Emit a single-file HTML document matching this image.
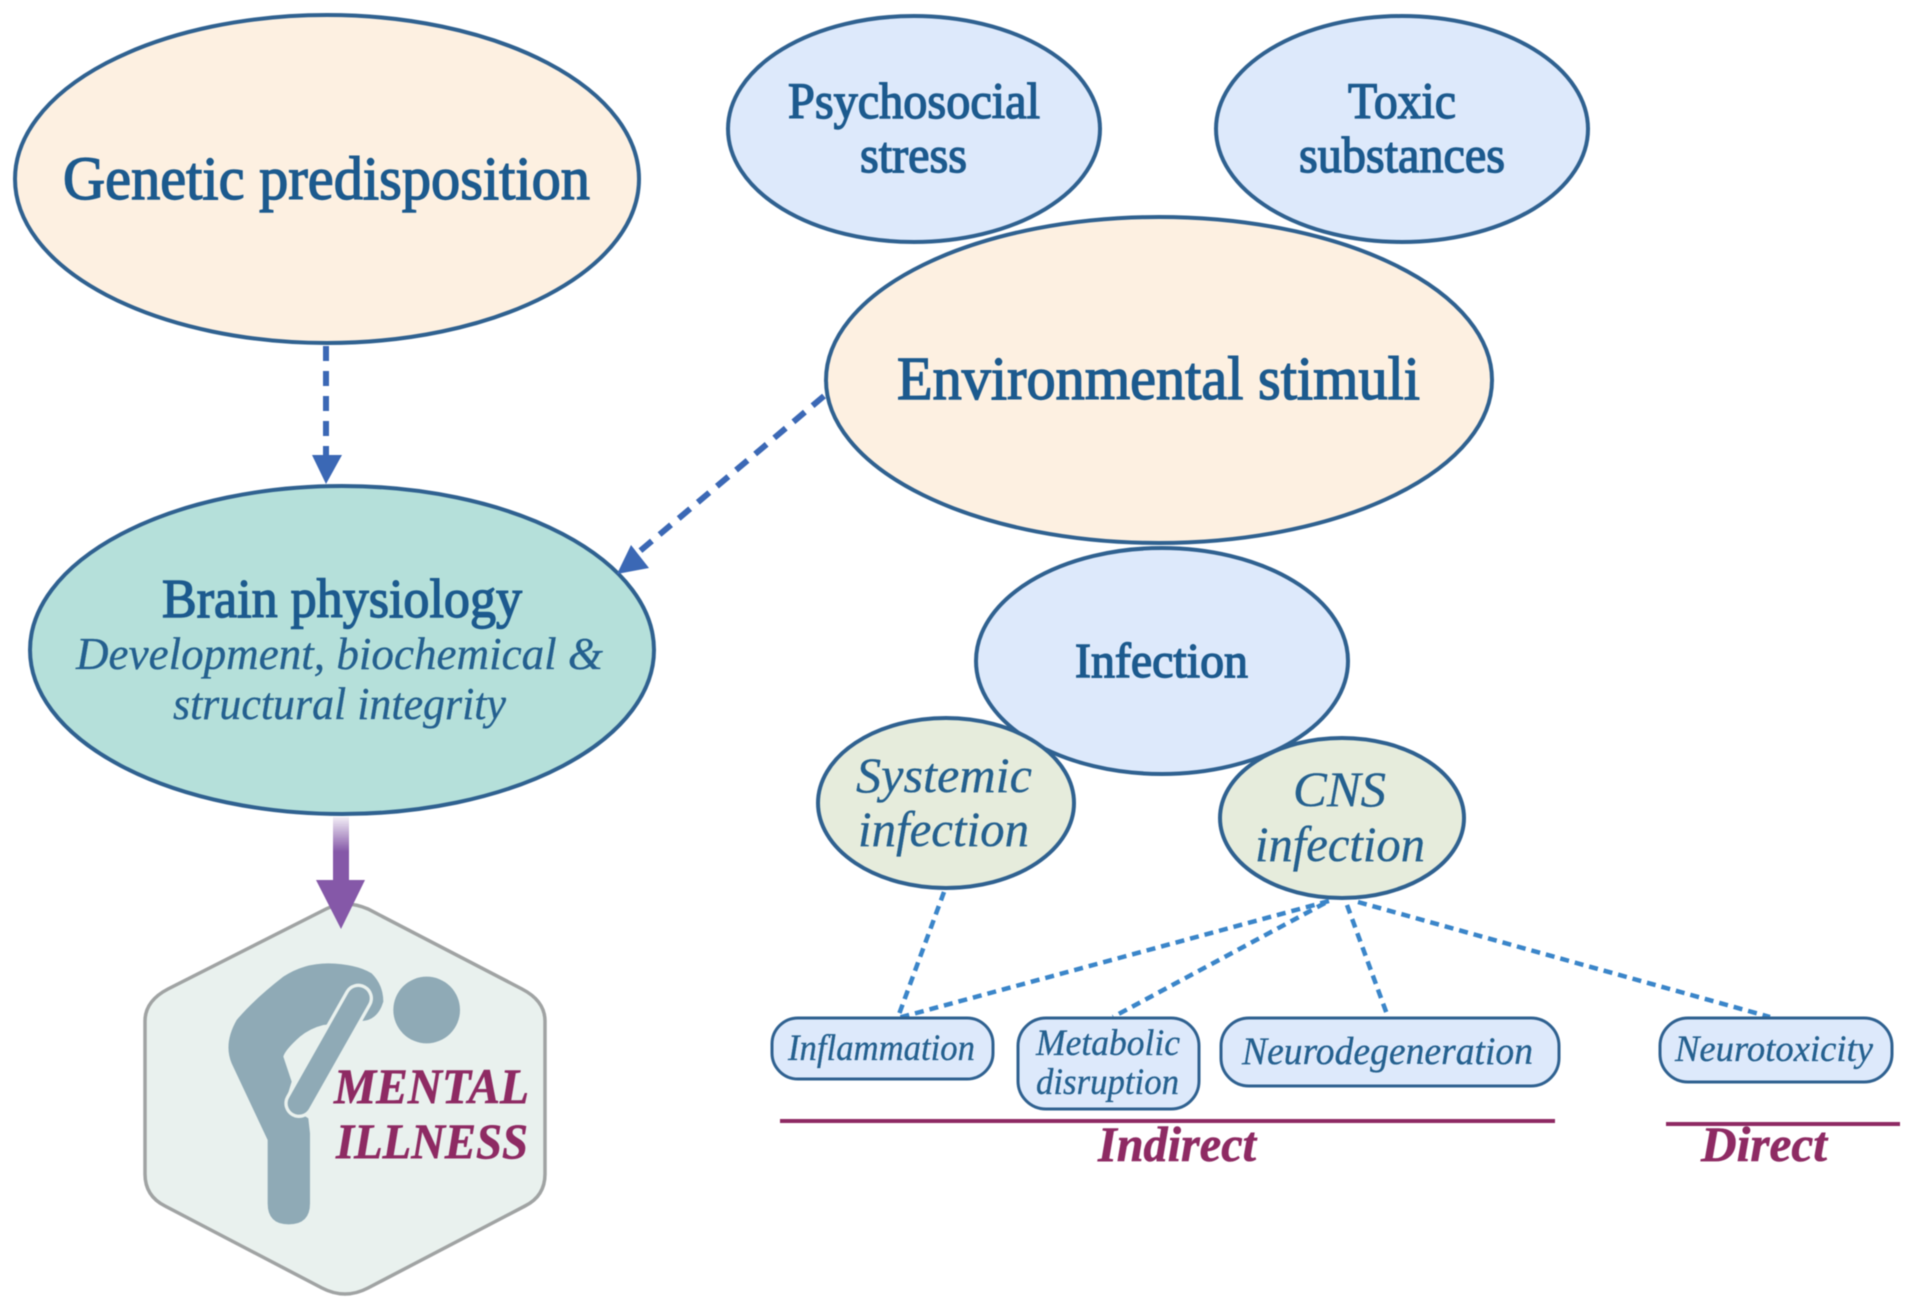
<!DOCTYPE html>
<html>
<head>
<meta charset="utf-8">
<style>
html,body{margin:0;padding:0;background:#fff;width:1913px;height:1310px;overflow:hidden}
svg{display:block;filter:blur(.5px)}
text{font-family:"Liberation Serif",serif;text-anchor:start}
.h{fill:#1c5a8e;stroke:#1c5a8e;stroke-width:1.4}
.i{fill:#24608f;stroke:#24608f;stroke-width:.3;font-style:italic}
.m{fill:#8e2a63;stroke:#8e2a63;stroke-width:.6;font-weight:bold;font-style:italic}
.n{stroke:#2f6190;stroke-width:4}
.c{stroke:#3a85c9;stroke-width:4.5;fill:none;stroke-dasharray:9 6}
</style>
</head>
<body>
<svg width="1913" height="1310" viewBox="0 0 1913 1310" xmlns="http://www.w3.org/2000/svg">
<defs>
<linearGradient id="g" x1="0" y1="0" x2="0" y2="1">
<stop offset="0" stop-color="#8558a8" stop-opacity=".1"/>
<stop offset=".55" stop-color="#8558a8"/>
<stop offset="1" stop-color="#8558a8"/>
</linearGradient>
</defs>

<!-- top ellipses -->
<ellipse class="n" cx="327" cy="179" rx="312" ry="164" fill="#fdf0e1"/>
<ellipse class="n" cx="914" cy="129" rx="186" ry="113" fill="#dde9fb"/>
<ellipse class="n" cx="1402" cy="129" rx="186" ry="113" fill="#dde9fb"/>
<ellipse class="n" cx="1159" cy="380" rx="333" ry="163" fill="#fdf0e1"/>
<ellipse class="n" cx="1162" cy="661" rx="186" ry="113" fill="#dde9fb"/>
<ellipse class="n" cx="946" cy="803" rx="128" ry="85" fill="#e6ecdc"/>
<ellipse class="n" cx="1342" cy="818" rx="122" ry="80" fill="#e6ecdc"/>
<ellipse class="n" cx="342" cy="650" rx="312" ry="164" fill="#b5e0da"/>

<!-- dashed arrows -->
<line x1="326" y1="346" x2="326" y2="458" stroke="#3b68b5" stroke-width="6" stroke-dasharray="15 10"/>
<polygon points="312,455 342,455 326,484" fill="#3b68b5"/>
<line x1="824" y1="396" x2="640" y2="551" stroke="#3b68b5" stroke-width="6" stroke-dasharray="15 10"/>
<polygon points="617,574 631,545 649,568" fill="#3b68b5"/>

<!-- hexagon -->
<path d="M326,909 Q345,899 368,909 L522,989 Q545,1001 545,1021 L545,1174 Q545,1196 525,1206 L368,1288 Q345,1300 322,1288 L165,1206 Q145,1196 145,1174 L145,1021 Q145,1001 168,989 Z" fill="#e9f1ee" stroke="#a0a3a3" stroke-width="3.5"/>

<!-- purple arrow -->
<rect x="333" y="817" width="16" height="63" fill="url(#g)"/>
<polygon points="316,880 365,880 341,929" fill="#8558a8"/>

<!-- person -->
<g transform="translate(200 940) scale(.33333)">
<circle cx="680" cy="210" r="100" fill="#8faab6"/>
<path d="M203,600 L95,370 Q70,310 110,240 Q160,180 250,110 Q310,70 385,70 Q470,72 515,100 Q550,135 550,185 Q535,235 495,242 L370,255 Q330,265 300,290 Q255,330 250,350 L275,425 L255,490 L325,535 L330,580 L330,790 Q330,853 266,853 Q203,853 203,790 Z" fill="#8faab6"/>
<line x1="475" y1="175" x2="297" y2="490" stroke="#e9f1ee" stroke-width="88" stroke-linecap="round"/>
<line x1="475" y1="175" x2="297" y2="490" stroke="#8faab6" stroke-width="68" stroke-linecap="round"/>
</g>

<!-- dotted connectors -->
<line class="c" x1="944" y1="892" x2="898" y2="1017"/>
<line class="c" x1="1329" y1="901" x2="898" y2="1018" stroke-dasharray="7 6"/>
<line class="c" x1="1325" y1="903" x2="1113" y2="1017" stroke-dasharray="8 6"/>
<line class="c" x1="1347" y1="905" x2="1388" y2="1017"/>
<line class="c" x1="1358" y1="902" x2="1770" y2="1017" stroke-dasharray="7 6"/>

<!-- boxes -->
<rect x="772" y="1018" width="221" height="61" rx="26" fill="#dde9fb" stroke="#2f6190" stroke-width="3"/>
<rect x="1018" y="1018" width="181" height="91" rx="28" fill="#dde9fb" stroke="#2f6190" stroke-width="3"/>
<rect x="1221" y="1018" width="338" height="68" rx="28" fill="#dde9fb" stroke="#2f6190" stroke-width="3"/>
<rect x="1660" y="1018" width="232" height="64" rx="28" fill="#dde9fb" stroke="#2f6190" stroke-width="3"/>

<!-- bars -->
<rect x="780" y="1119" width="775" height="4" fill="#8e2a63"/>
<rect x="1666" y="1122" width="234" height="4" fill="#8e2a63"/>

<!-- text -->
<text class="h" x="63" y="199" font-size="61" textLength="527" lengthAdjust="spacingAndGlyphs">Genetic predisposition</text>
<text class="h" x="788" y="118" font-size="51" textLength="252" lengthAdjust="spacingAndGlyphs">Psychosocial</text>
<text class="h" x="860" y="172" font-size="51" textLength="107" lengthAdjust="spacingAndGlyphs">stress</text>
<text class="h" x="1348" y="118" font-size="51" textLength="108" lengthAdjust="spacingAndGlyphs">Toxic</text>
<text class="h" x="1299" y="172" font-size="51" textLength="206" lengthAdjust="spacingAndGlyphs">substances</text>
<text class="h" x="897" y="399" font-size="61" textLength="523" lengthAdjust="spacingAndGlyphs">Environmental stimuli</text>
<text class="h" x="162" y="617" font-size="55" textLength="360" lengthAdjust="spacingAndGlyphs">Brain physiology</text>
<text class="i" x="76" y="669" font-size="46" textLength="527" lengthAdjust="spacingAndGlyphs">Development, biochemical &amp;</text>
<text class="i" x="173" y="719" font-size="46" textLength="333" lengthAdjust="spacingAndGlyphs">structural integrity</text>
<text class="h" x="1075" y="677" font-size="49" textLength="173" lengthAdjust="spacingAndGlyphs">Infection</text>
<text class="i" x="856" y="792" font-size="50" textLength="176" lengthAdjust="spacingAndGlyphs">Systemic</text>
<text class="i" x="858" y="846" font-size="50" textLength="171" lengthAdjust="spacingAndGlyphs">infection</text>
<text class="i" x="1293" y="806" font-size="50" textLength="93" lengthAdjust="spacingAndGlyphs">CNS</text>
<text class="i" x="1255" y="861" font-size="50" textLength="170" lengthAdjust="spacingAndGlyphs">infection</text>
<text class="i" x="788" y="1060" font-size="37" textLength="187" lengthAdjust="spacingAndGlyphs">Inflammation</text>
<text class="i" x="1036" y="1055" font-size="37" textLength="144" lengthAdjust="spacingAndGlyphs">Metabolic</text>
<text class="i" x="1036" y="1094" font-size="37" textLength="143" lengthAdjust="spacingAndGlyphs">disruption</text>
<text class="i" x="1242" y="1064" font-size="39" textLength="291" lengthAdjust="spacingAndGlyphs">Neurodegeneration</text>
<text class="i" x="1675" y="1061" font-size="37" textLength="198" lengthAdjust="spacingAndGlyphs">Neurotoxicity</text>
<text class="m" x="1098" y="1161" font-size="50" textLength="158" lengthAdjust="spacingAndGlyphs">Indirect</text>
<text class="m" x="1701" y="1161" font-size="50" textLength="126" lengthAdjust="spacingAndGlyphs">Direct</text>
<text class="m" x="334" y="1103" font-size="50" textLength="195" lengthAdjust="spacingAndGlyphs">MENTAL</text>
<text class="m" x="336" y="1158" font-size="50" textLength="192" lengthAdjust="spacingAndGlyphs">ILLNESS</text>
</svg>
</body>
</html>
